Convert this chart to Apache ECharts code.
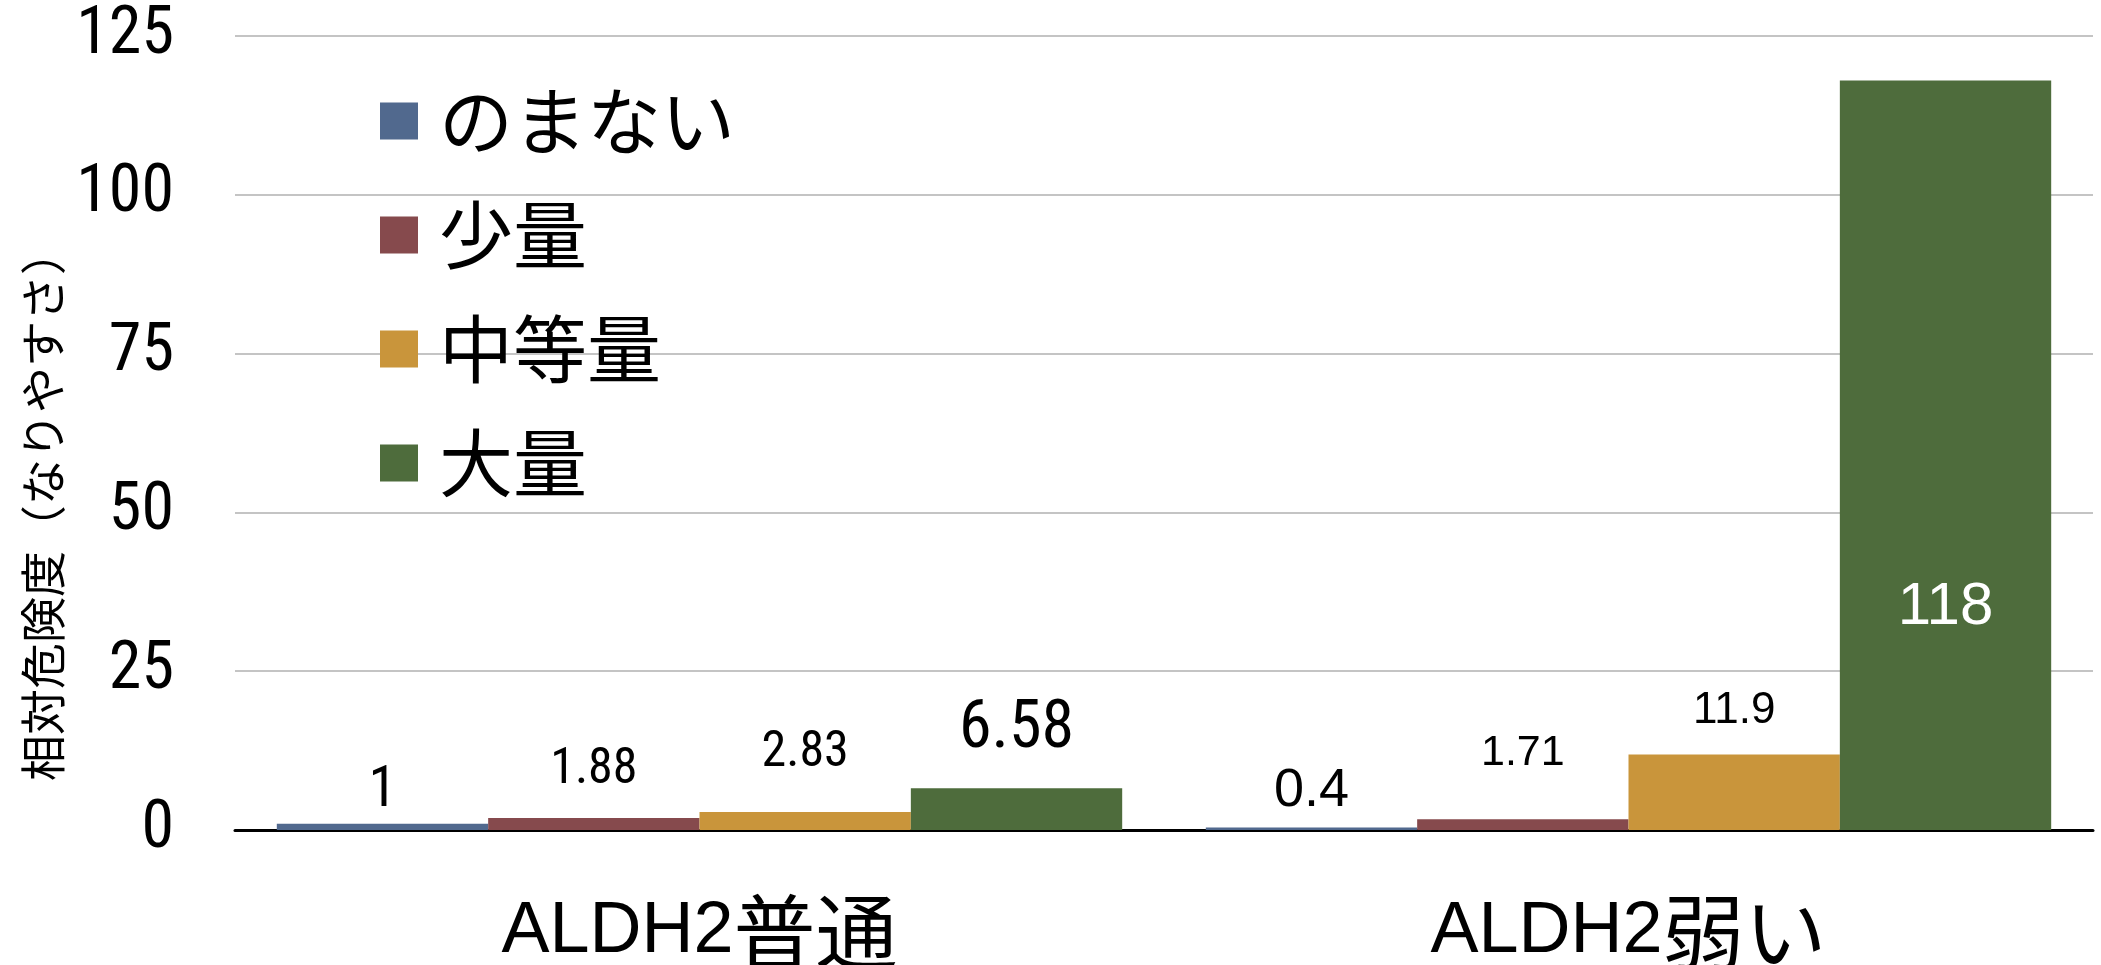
<!DOCTYPE html>
<html>
<head>
<meta charset="utf-8">
<script src="https://cdn.jsdelivr.net/npm/echarts@6/dist/echarts.min.js"></script>
<style>
  html, body { margin: 0; padding: 0; background: #fff; }
  #chart { width: 2101px; height: 965px; }
</style>
</head>
<body>
<div id="chart"></div>
<script>
const categories = ["ALDH2普通", "ALDH2弱い"];
const seriesNames = ["のまない", "少量", "中等量", "大量"];
const noDrink = [1, 0.4];
const light = [1.88, 1.71];
const moderate = [2.83, 11.9];
const heavy = [6.58, 118];
const yMin = 0;
const yMax = 125;
const yStep = 25;
const yName = "相対危険度（なりやすさ）";

const colors = ["#51698e", "#864a4d", "#c9953b", "#4e6c3c"];
const narrow = "'Roboto Condensed', 'Noto Sans CJK JP', sans-serif";
const regular = "'Liberation Sans', 'Noto Sans CJK JP', sans-serif";
const cjk = "'Noto Sans CJK JP', sans-serif";

// per-label look (font size, family, gap above the bar), hand-tuned to the reference
const labelLook = [
  [{ size: 57, family: narrow, gap: 3 }, { size: 54, family: regular, gap: 9 }],
  [{ size: 50, family: narrow, gap: 23 }, { size: 43, family: regular, gap: 44 }],
  [{ size: 50, family: narrow, gap: 34 }, { size: 44, family: regular, gap: 22 }],
  [{ size: 66, family: narrow, gap: 25 }, { size: 60, family: regular, inside: 193 }]
];

const values = [noDrink, light, moderate, heavy];

const chart = echarts.init(document.getElementById("chart"));

const series = seriesNames.map((name, s) => ({
  name,
  type: "bar",
  barGap: "0%",
  barCategoryGap: "9%",
  itemStyle: { color: colors[s] },
  data: values[s].map((v, i) => {
    const look = labelLook[s][i];
    return {
      value: v,
      label: {
        show: true,
        position: look.inside ? "insideBottom" : "top",
        distance: look.inside ? look.inside : look.gap,
        fontSize: look.size,
        fontFamily: look.family,
        color: look.inside ? "#ffffff" : "#000000"
      }
    };
  })
}));

chart.setOption({
  animation: false,
  backgroundColor: "#ffffff",
  color: colors,
  grid: {
    left: 235,
    right: 8,
    top: 36,
    bottom: 135,
    containLabel: false,
    outerBoundsMode: "none"
  },
  legend: {
    orient: "vertical",
    left: 380,
    top: 84,
    padding: 0,
    itemWidth: 38,
    itemHeight: 37,
    itemGap: 40,
    icon: "rect",
    data: seriesNames,
    textStyle: {
      fontSize: 74,
      lineHeight: 74,
      fontFamily: cjk,
      color: "#000",
      padding: [0, 0, 0, 16]
    }
  },
  xAxis: {
    type: "category",
    data: categories,
    axisLine: { show: true, lineStyle: { color: "#000", width: 3 } },
    axisTick: { show: false },
    axisLabel: {
      margin: 61,
      formatter: (v) => `{a|${v.slice(0, 5)}}{b|${v.slice(5)}}`,
      rich: {
        a: { fontSize: 72, fontFamily: regular, color: "#000" },
        b: { fontSize: 82, fontFamily: cjk, color: "#000" }
      }
    }
  },
  yAxis: {
    type: "value",
    min: yMin,
    max: yMax,
    interval: yStep,
    axisLine: { show: false },
    axisTick: { show: false },
    axisLabel: { fontSize: 66, fontFamily: narrow, color: "#000", margin: 61 },
    splitLine: { lineStyle: { color: "#c4c4c4", width: 2 } }
  },
  graphic: [
    {
      type: "text",
      x: 43,
      y: 505,
      rotation: Math.PI / 2,
      style: {
        text: yName,
        font: "46px 'Noto Sans CJK JP'",
        fill: "#000",
        textAlign: "center",
        textVerticalAlign: "middle"
      }
    }
  ],
  series
});
</script>
</body>
</html>
